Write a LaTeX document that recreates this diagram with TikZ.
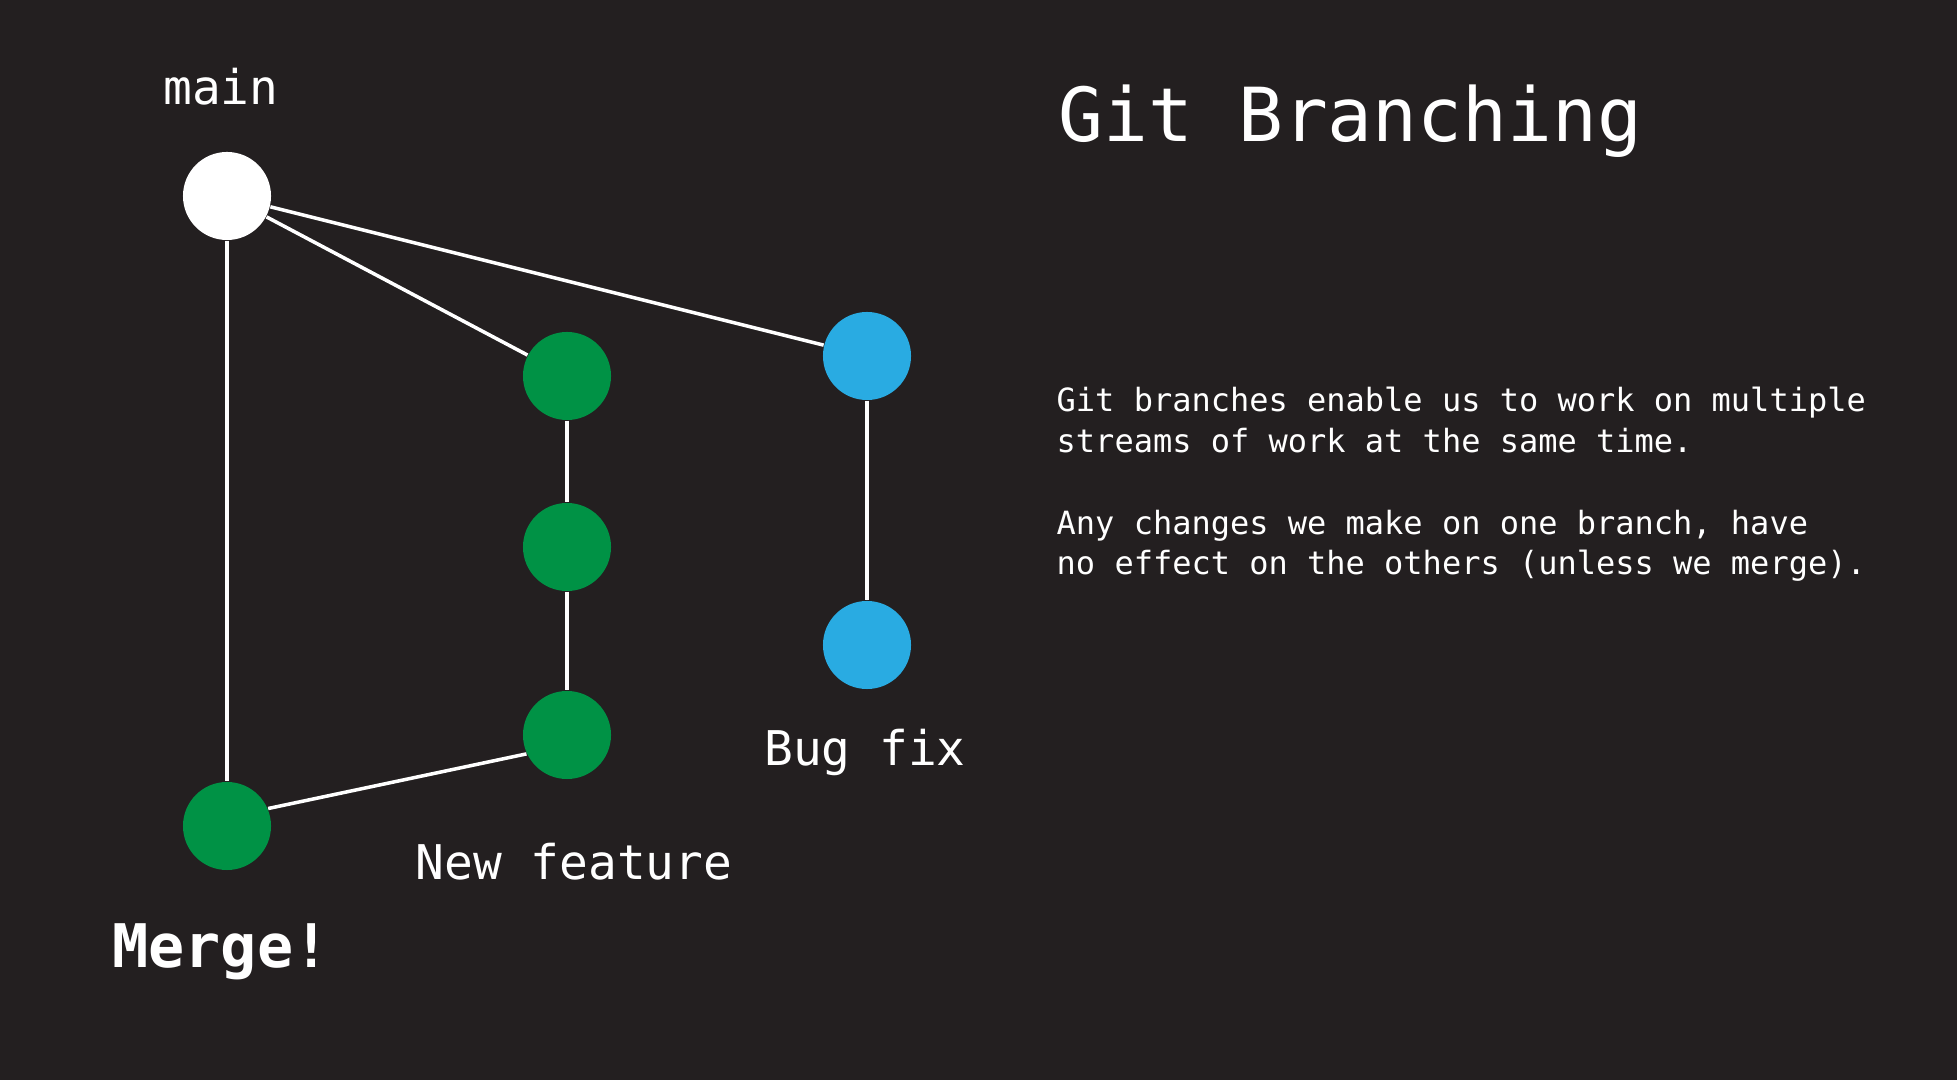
\documentclass[tikz,border=0pt]{standalone}
\usepackage{fontspec}
\setmonofont{DejaVu Sans Mono}
\definecolor{bgdark}{RGB}{35,31,32}
\definecolor{featgreen}{RGB}{0,146,69}
\definecolor{fixblue}{RGB}{41,171,226}
\begin{document}
\begin{tikzpicture}[x=0.01cm, y=-0.01cm,
  commit/.style={circle, inner sep=0pt, minimum size=0.88cm},
  link/.style={draw=white, line width=1pt},
  label/.style={text=white, inner sep=0pt, font=\ttfamily\fontsize{13.6}{16}\selectfont}
]
  \fill[bgdark] (0,0) rectangle (1957,1080);
  \useasboundingbox (0,0) rectangle (1957,1080);
  % commits
  \node[commit, fill=white] (main) at (227,196) {};
  \node[commit, fill=featgreen] (feat1) at (567,376) {};
  \node[commit, fill=featgreen] (feat2) at (567,547) {};
  \node[commit, fill=featgreen] (feat3) at (567,735) {};
  \node[commit, fill=featgreen] (merge) at (227,826) {};
  \node[commit, fill=fixblue] (fix1) at (867,356) {};
  \node[commit, fill=fixblue] (fix2) at (867,645) {};
  % branches
  \draw[link] (main) -- (merge);
  \draw[link] (main) -- (feat1);
  \draw[link] (main) -- (fix1);
  \draw[link] (feat1) -- (feat2) -- (feat3);
  \draw[link] (merge.23) -- (feat3.205);
  \draw[link] (fix1) -- (fix2);
  % labels
  \node[label, anchor=base] (mainlbl) at (221,105) {main};
  \node[label, anchor=base] (featlbl) at (574,880) {New feature};
  \node[label, anchor=base] (fixlbl) at (865,766) {Bug fix};
  \node[label, anchor=base, font=\ttfamily\bfseries\fontsize{17.1}{20}\selectfont] (mergelbl) at (221,968) {Merge!};
  \node[label, anchor=base west, font=\ttfamily\fontsize{21.2}{25}\selectfont] (title) at (1058,142) {Git Branching};
  \node[label, anchor=base west, align=left, font=\ttfamily\fontsize{9.1}{11.6}\selectfont] (about) at (1056,575)
    {Git branches enable us to work on multiple\\streams of work at the same time.\\[11.6pt]Any changes we make on one branch, have\\no effect on the others (unless we merge).};
\end{tikzpicture}
\end{document}
